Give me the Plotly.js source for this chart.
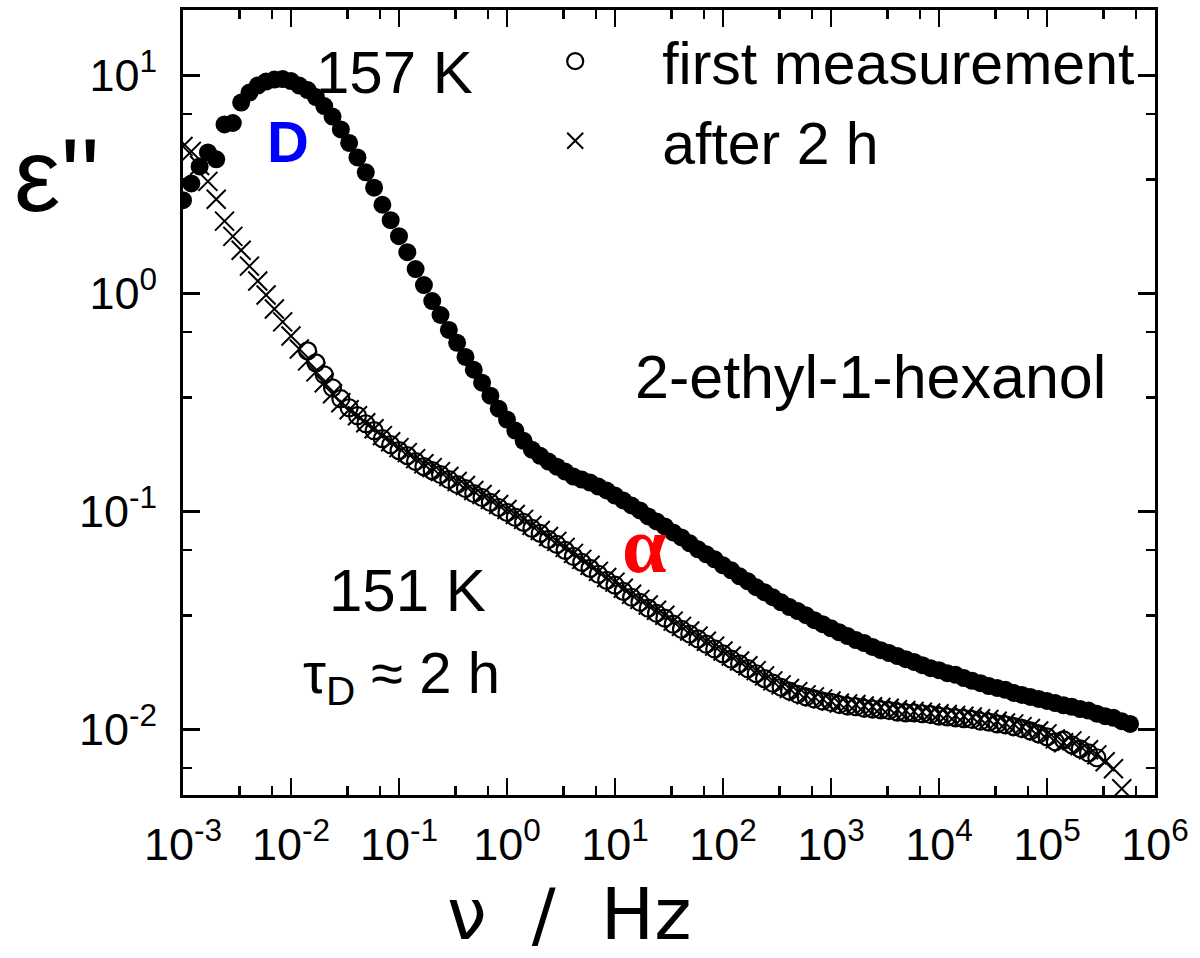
<!DOCTYPE html>
<html>
<head>
<meta charset="utf-8">
<script src="https://cdn.plot.ly/plotly-3.0.1.min.js"></script>
<style>html,body{margin:0;padding:0;background:#fff;}#chart{width:1200px;height:958px;}</style>
</head>
<body>
<div id="chart"></div>
<script>
// Frequency grid (Hz)
var freq = [
1.000e-3,1.194e-3,1.425e-3,1.701e-3,2.031e-3,2.424e-3,2.894e-3,3.455e-3,4.125e-3,4.924e-3,5.878e-3,7.017e-3,8.377e-3,
1.000e-2,1.194e-2,1.425e-2,1.701e-2,2.031e-2,2.424e-2,2.894e-2,3.455e-2,4.125e-2,4.924e-2,5.878e-2,7.017e-2,8.377e-2,
1.000e-1,1.194e-1,1.425e-1,1.701e-1,2.031e-1,2.424e-1,2.894e-1,3.455e-1,4.125e-1,4.924e-1,5.878e-1,7.017e-1,8.377e-1,
1.000e0,1.194e0,1.425e0,1.701e0,2.031e0,2.424e0,2.894e0,3.455e0,4.125e0,4.924e0,5.878e0,7.017e0,8.377e0,
1.000e1,1.194e1,1.425e1,1.701e1,2.031e1,2.424e1,2.894e1,3.455e1,4.125e1,4.924e1,5.878e1,7.017e1,8.377e1,
1.000e2,1.194e2,1.425e2,1.701e2,2.031e2,2.424e2,2.894e2,3.455e2,4.125e2,4.924e2,5.878e2,7.017e2,8.377e2,
1.000e3,1.194e3,1.425e3,1.701e3,2.031e3,2.424e3,2.894e3,3.455e3,4.125e3,4.924e3,5.878e3,7.017e3,8.377e3,
1.000e4,1.194e4,1.425e4,1.701e4,2.031e4,2.424e4,2.894e4,3.455e4,4.125e4,4.924e4,5.878e4,7.017e4,8.377e4,
1.000e5,1.194e5,1.425e5,1.701e5,2.031e5,2.424e5,2.894e5,3.455e5,4.125e5,4.924e5,5.878e5
];

// 157 K (filled circles)
var eps157 = [
2.68,3.20,3.83,4.44,4.13,5.97,6.06,7.52,8.36,9.00,9.39,9.59,9.64,
9.44,9.00,8.58,7.97,7.25,6.49,5.66,4.91,4.21,3.60,3.06,2.555,2.17,
1.833,1.548,1.295,1.094,0.924,0.797,0.681,0.594,0.512,0.447,0.390,0.340,0.296,
0.264,0.235,0.211,0.192,0.180,0.1694,0.1606,0.1524,0.1446,0.1401,0.1357,0.1301,0.1248,
0.1183,0.1123,0.1065,0.1011,0.0949,0.0900,0.0854,0.0801,0.0760,0.0714,0.0670,0.0636,0.0603,
0.0566,0.0537,0.0504,0.0478,0.0449,0.0426,0.0404,0.0383,0.0364,0.0349,0.0334,0.0317,0.0304,
0.0291,0.0279,0.0268,0.0257,0.0249,0.0239,0.0231,0.0224,0.0217,0.0210,0.0204,0.0197,0.0191,
0.0187,0.0181,0.0178,0.0172,0.0167,0.0163,0.0158,0.0155,0.0152,0.0147,0.0144,0.0141,0.0138,
0.0135,0.0132,0.0129,0.0127,0.0124,0.0122,0.0118,0.0115,0.0113,0.0109,0.0106
];

// 151 K, first measurement (open circles), freq index 15..110
var epsFirst = [
0.5455,0.4807,0.4236,0.3694,0.3291,0.2992,0.2750,0.2527,0.2348,0.2158,0.2025,
0.1902,0.1804,0.1694,0.1606,0.1540,0.1477,0.1401,0.1329,0.1274,0.1209,0.1159,0.1100,0.1043,
0.0989,0.0939,0.0891,0.0836,0.0793,0.0744,0.0706,0.0663,0.0622,0.0584,0.0548,0.0515,0.0483,
0.0459,0.0430,0.0404,0.0383,0.0360,0.0341,0.0324,0.0304,0.0288,0.0274,0.0260,0.0246,0.0234,
0.0222,0.0210,0.0200,0.0190,0.0180,0.0171,0.0163,0.0156,0.0150,0.0145,0.0141,0.0138,0.0135,
0.0133,0.0130,0.0128,0.0127,0.0125,0.0124,0.0123,0.0122,0.0120,0.0119,0.0119,0.0118,0.0117,
0.0115,0.0114,0.0113,0.0112,0.0111,0.0109,0.0108,0.0106,0.0105,0.0103,0.0101,0.00984,0.00954,
0.00924,0.00877,0.00895,0.00849,0.00814,0.00780,0.00741
];

// 151 K, after 2 h (crosses), freq index 0..113
var epsAfter = [
4.73,4.49,3.87,3.27,2.71,2.15,1.83,1.58,1.336,1.141,0.984,0.849,0.741,
0.639,0.557,0.491,0.437,0.3895,0.3467,0.3154,0.2929,0.2750,0.2554,0.2398,0.2228,0.2090,
0.1963,0.1862,0.1748,0.1657,0.1589,0.1524,0.1446,0.1372,0.1315,0.1248,0.1196,0.1135,0.1076,
0.1021,0.0969,0.0920,0.0863,0.0818,0.0768,0.0729,0.0684,0.0642,0.0603,0.0566,0.0531,0.0498,
0.0474,0.0444,0.0417,0.0395,0.0372,0.0352,0.0334,0.0314,0.0297,0.0283,0.0268,0.0254,0.0241,
0.0229,0.0217,0.0206,0.0196,0.0186,0.0176,0.0167,0.0160,0.0154,0.0149,0.0144,0.0141,0.0138,
0.0135,0.0132,0.0131,0.0130,0.0128,0.0127,0.0126,0.0125,0.0123,0.0122,0.0121,0.0120,0.0119,
0.0118,0.0117,0.0116,0.0115,0.0114,0.0112,0.0111,0.0109,0.0107,0.0106,0.0103,0.0101,0.00984,
0.00954,0.00905,0.00868,0.00886,0.00840,0.00806,0.00764,0.00710,0.00660,0.00534
];

var xTickVals = [1e-3,1e-2,1e-1,1e0,1e1,1e2,1e3,1e4,1e5,1e6];
var xTickText = ['10<sup>-3</sup>','10<sup>-2</sup>','10<sup>-1</sup>','10<sup>0</sup>','10<sup>1</sup>','10<sup>2</sup>','10<sup>3</sup>','10<sup>4</sup>','10<sup>5</sup>','10<sup>6</sup>'];
var xMinorVals = [3.333e-3,6.667e-3,3.333e-2,6.667e-2,3.333e-1,6.667e-1,3.333,6.667,33.33,66.67,333.3,666.7,3333,6667,33333,66667,333333,666667];
var yTickVals = [1e-2,1e-1,1e0,1e1];
var yTickText = ['10<sup>-2</sup>','10<sup>-1</sup>','10<sup>0</sup>','10<sup>1</sup>'];
var yMinorVals = [6.667e-3,3.333e-2,6.667e-2,3.333e-1,6.667e-1,3.333,6.667];

var legendLabels = ['first measurement','after 2 h'];

var FONT = 'Arial, "Liberation Sans", sans-serif';
var NB = '\u00a0';

var freqFirst = freq.slice(15, 15 + epsFirst.length);
var freqAfter = freq.slice(0, epsAfter.length);

var traces = [
  {x: freqFirst, y: epsFirst, type:'scatter', mode:'markers', name: legendLabels[0],
   legendgroup:'a',
   marker:{symbol:'circle-open', size:17, color:'black', line:{width:2.2, color:'black'}}},
  {x: freqAfter, y: epsAfter, type:'scatter', mode:'markers', name: legendLabels[1],
   legendgroup:'b',
   marker:{symbol:'x-thin-open', size:19, color:'black', line:{width:2, color:'black'}}},
  {x: freq, y: eps157, type:'scatter', mode:'markers', name:'157 K', showlegend:false,
   marker:{symbol:'circle', size:18, color:'black', line:{width:0}}}
];

var axisCommon = {
  type:'log', showline:true, linecolor:'black', linewidth:3, mirror:'allticks',
  ticks:'inside', ticklen:17, tickwidth:2.5, tickcolor:'black',
  showgrid:false, zeroline:false, tickmode:'array',
  tickfont:{family:FONT, size:45, color:'black'}
};

var layout = {
  width:1200, height:958,
  margin:{l:183, r:45, t:10, b:163},
  paper_bgcolor:'white', plot_bgcolor:'white',
  showlegend:true,
  legend:{x:0.314, xanchor:'left', y:0.992, yanchor:'top', bgcolor:'rgba(0,0,0,0)',
    borderwidth:0, itemwidth:164, tracegroupgap:0,
    font:{family:FONT, size:59, color:'black'}},
  xaxis: Object.assign({}, axisCommon, {
    range:[-3, 6], tickvals:xTickVals, ticktext:xTickText, ticklabelstandoff:8,
    minor:{tickmode:'array', tickvals:xMinorVals, ticks:'inside', ticklen:9, tickwidth:2.5, tickcolor:'black', showgrid:false}
  }),
  yaxis: Object.assign({}, axisCommon, {
    range:[Math.log10(0.005), Math.log10(20)], tickvals:yTickVals, ticktext:yTickText, ticklabelstandoff:14,
    minor:{tickmode:'array', tickvals:yMinorVals, ticks:'inside', ticklen:9, tickwidth:2.5, tickcolor:'black', showgrid:false}
  }),
  annotations:[
    {xref:'paper', yref:'paper', x:-0.13, y:0.79, text:"\u03b5''", showarrow:false,
     font:{family:FONT, size:104, color:'black'}, xanchor:'center', yanchor:'middle'},
    {xref:'paper', yref:'paper', x:0.398, y:-0.2076, text:'\u03bd' + NB + NB + '/' + NB + NB + 'Hz', showarrow:false,
     font:{family:'"DejaVu Sans", sans-serif', size:71, color:'black'}, xanchor:'center', yanchor:'bottom'},
    {xref:'paper', yref:'paper', x:0.2181, y:0.92, text:'157 K', showarrow:false,
     font:{family:FONT, size:60, color:'black'}, xanchor:'center', yanchor:'middle'},
    {xref:'paper', yref:'paper', x:0.108, y:0.832, text:'<b>D</b>', showarrow:false,
     font:{family:FONT, size:58, color:'#0000ff'}, xanchor:'center', yanchor:'middle'},
    {xref:'paper', yref:'paper', x:0.4753, y:0.318, text:'<b>\u03b1</b>', showarrow:false,
     font:{family:'"Liberation Serif", "Times New Roman", serif', size:80, color:'#ff0000'}, xanchor:'center', yanchor:'middle'},
    {xref:'paper', yref:'paper', x:0.7068, y:0.532, text:'2-ethyl-1-hexanol', showarrow:false,
     font:{family:FONT, size:61, color:'black'}, xanchor:'center', yanchor:'middle'},
    {xref:'paper', yref:'paper', x:0.2305, y:0.26, text:'151 K', showarrow:false,
     font:{family:FONT, size:60, color:'black'}, xanchor:'center', yanchor:'middle'},
    {xref:'paper', yref:'paper', x:0.2253, y:0.15, text:'\u03c4<sub>D</sub> \u2248 2 h', showarrow:false,
     font:{family:FONT, size:58, color:'black'}, xanchor:'center', yanchor:'middle'}
  ]
};

Plotly.newPlot('chart', traces, layout, {staticPlot:true, displayModeBar:false});
</script>
</body>
</html>
